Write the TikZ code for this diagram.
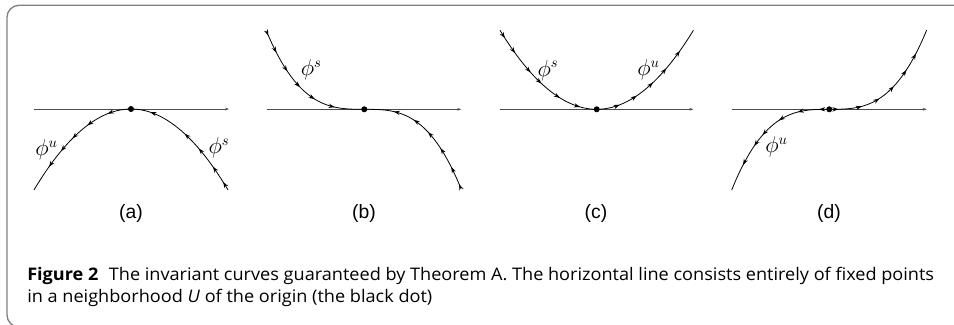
\documentclass[tikz,border=0pt]{standalone}
\usepackage{fontspec}
\newfontfamily\capfont[FakeStretch=1.045]{Open Sans}
\newfontfamily\subfont{Liberation Sans}
\usetikzlibrary{arrows.meta,decorations.markings}
\definecolor{framegray}{RGB}{128,128,128}
\tikzset{
  axis/.style={draw=black!70, line width=0.5pt, -{Stealth[length=3pt,width=2pt]}},
  orbit/.style={line width=0.6pt},
  flowat/.style={postaction={decorate,decoration={markings,mark=at position #1 with {\arrow{Stealth[length=4.5pt,width=3.2pt]}}}}},
  origin/.style={circle, fill, inner sep=0pt, minimum size=4.5pt},
  sublabel/.style={font=\subfont\fontsize{14.5}{17}\selectfont},
  philabel/.style={font=\fontsize{16}{18}\selectfont},
  caption/.style={anchor=base west, inner sep=0pt, font=\capfont\fontsize{13}{15}\selectfont},
}
\begin{document}
\begin{tikzpicture}[x=0.75pt,y=-0.75pt]
\useasboundingbox (0,0) rectangle (954,325);
\clip (0,0) rectangle (954,325);
\draw[framegray, line width=1pt, rounded corners=9] (7,5.3) rectangle (980,327);

% (a) unstable left, stable right
\begin{scope}[shift={(131,109)}]
\coordinate (oa) at (0,0);
\coordinate (la) at (-97,80.9);
\coordinate (ra) at (97,80.9);
\draw[axis] (-97,0) -- (98,0);
\draw[orbit, flowat/.list={0.18,0.36,0.51,0.64,0.79}] (oa) .. controls (-32.3,0) and (-64.7,27) .. (la);
\draw[orbit, flowat/.list={0.07,0.21,0.385,0.54,0.85}] (ra) .. controls (64.7,27) and (32.3,0) .. (oa);
\node[origin] (dota) at (oa) {};
\node[philabel] (ua) at (-84.5,41) {$\phi^u$};
\node[philabel] (sa) at (88,39) {$\phi^s$};
\end{scope}

% (b) stable on both sides
\begin{scope}[shift={(364.3,109.3)}]
\coordinate (ob) at (0,0);
\coordinate (lb) at (-97.6,-77.6);
\coordinate (rb) at (96.4,78.7);
\draw[axis] (-97.6,0) -- (97,0);
\draw[orbit, flowat/.list={0.03,0.17,0.33,0.48,0.62,0.78}] (lb) .. controls (-65.1,0) and (-32.5,0) .. (ob);
\draw[orbit, flowat/.list={0.03,0.17,0.33,0.48,0.62,0.78}] (rb) .. controls (64.3,0) and (32.1,0) .. (ob);
\node[origin] (dotb) at (ob) {};
\node[philabel] (sb) at (-53,-39.3) {$\phi^s$};
\end{scope}

% (c) stable left, unstable right
\begin{scope}[shift={(596.7,109.3)}]
\coordinate (oc) at (0,0);
\coordinate (lc) at (-96.7,-79);
\coordinate (rc) at (96.7,-79);
\draw[axis] (-96.7,0) -- (96.7,0);
\draw[orbit, flowat/.list={0.07,0.21,0.40,0.52,0.70,0.87}] (lc) .. controls (-64.5,-26.3) and (-32.2,0) .. (oc);
\draw[orbit, flowat/.list={0.18,0.33,0.49,0.64,0.81}] (oc) .. controls (32.2,0) and (64.5,-26.3) .. (rc);
\node[origin] (dotc) at (oc) {};
\node[philabel] (sc) at (-48.7,-39) {$\phi^s$};
\node[philabel] (uc) at (51.8,-39.3) {$\phi^u$};
\end{scope}

% (d) unstable on both sides
\begin{scope}[shift={(829.3,109.3)}]
\coordinate (od) at (0,0);
\coordinate (ld) at (-97.6,80.7);
\coordinate (rd) at (97.4,-79.3);
\draw[axis] (-97.6,0) -- (97.4,0);
\draw[orbit, flowat/.list={0.074,0.23,0.38,0.54,0.64,0.8}] (od) .. controls (-32.5,0) and (-65.1,0) .. (ld);
\draw[orbit, flowat/.list={0.067,0.24,0.38,0.52,0.67,0.81}] (od) .. controls (32.5,0) and (64.9,0) .. (rd);
\node[origin] (dotd) at (od) {};
\node[philabel] (ud) at (-52.8,37.4) {$\phi^u$};
\end{scope}

\node[sublabel] (capa) at (131,213) {(a)};
\node[sublabel] (capb) at (364,213) {(b)};
\node[sublabel] (capc) at (596,213) {(c)};
\node[sublabel] (capd) at (829,213) {(d)};

\node[caption] (line1) at (27,280.5) {\textbf{Figure 2}\hspace{0.6em}The invariant curves guaranteed by Theorem A. The horizontal line consists entirely of fixed points};
\node[caption] (line2) at (27,302.5) {in a neighborhood \textit{U} of the origin (the black dot)};
\end{tikzpicture}
\end{document}
